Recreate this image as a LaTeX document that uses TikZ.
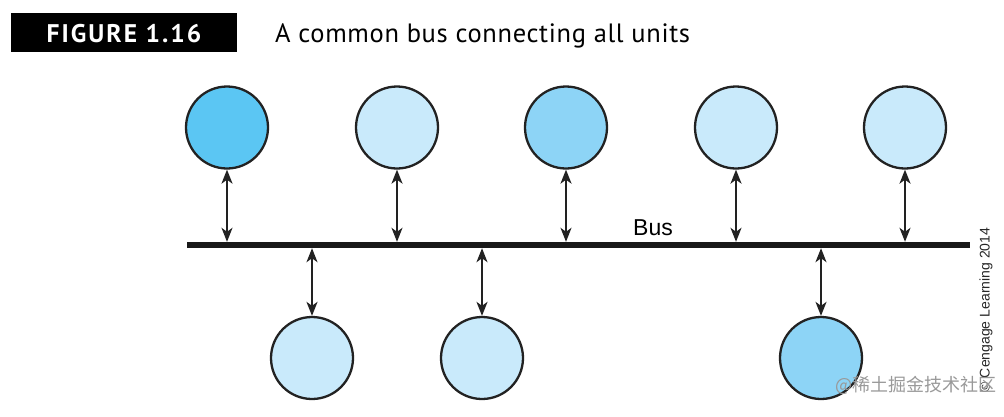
\documentclass[tikz,border=0pt]{standalone}
\usepackage{fontspec}
\setmainfont{PT Sans}
\newfontfamily\titlef[LetterSpace=8]{PT Sans}
\newfontfamily\capf[LetterSpace=2.5]{PT Sans}
\newfontfamily\arialf{Liberation Sans}
\newfontfamily\cjkf{Noto Sans CJK SC}
\usetikzlibrary{arrows.meta}
\definecolor{cdark}{HTML}{5BC6F3}
\definecolor{cmid}{HTML}{8DD4F6}
\definecolor{clight}{HTML}{C9EAFB}
\definecolor{edge}{HTML}{222222}
\begin{document}
\begin{tikzpicture}[x=1pt,y=-1pt,
  unit/.style={circle,draw=edge,line width=2.3pt,minimum size=82pt,inner sep=0pt},
  tipx/.style={Stealth[length=14pt,width=11pt,inset=4pt]},
  link/.style={line width=2pt,draw=edge,{Stealth[length=14pt,width=11pt,inset=4pt]}-{Stealth[length=14pt,width=11pt,inset=4pt]}},
  busbar/.style={fill=black!90,draw=none,minimum width=783pt,minimum height=6pt,inner sep=0pt}]
\useasboundingbox (0,0) rectangle (1004,416);
% title
\node[fill=black,minimum width=226pt,minimum height=39pt,inner sep=0pt,anchor=north west] (tbox) at (11,13) {};
\node[text=white,font=\titlef\bfseries\fontsize{25.5}{28}\selectfont,anchor=base] (tnum) at (124,42) {FIGURE 1.16};
\node[font=\capf\fontsize{26.5}{30}\selectfont,anchor=base west,inner sep=0pt] (cap) at (275,42) {A common bus connecting all units};
% bus
\node[busbar,anchor=west] (bus) at (187,245) {};
\node[font=\arialf\fontsize{23}{26}\selectfont,anchor=base] (buslbl) at (653,235) {Bus};
% units
\node[unit,fill=cdark]  (u1) at (227,127.5) {};
\node[unit,fill=clight] (u2) at (397,127.5) {};
\node[unit,fill=cmid]   (u3) at (566,127.5) {};
\node[unit,fill=clight] (u4) at (736,127.5) {};
\node[unit,fill=clight] (u5) at (905,127.5) {};
\node[unit,fill=clight] (d1) at (312,358) {};
\node[unit,fill=clight] (d2) at (482,358) {};
\node[unit,fill=cmid]   (d3) at (821,358) {};
% connectors
\foreach \u in {u1,u2,u3,u4,u5}
  \draw[link] (\u.south) -- (\u.south |- bus.north);
\foreach \d in {d1,d2,d3}
  \draw[link] (\d.north |- bus.south) -- (\d.north);
% copyright
\node[font=\arialf\fontsize{14}{16}\selectfont,rotate=90,text=black!85] (copy) at (986,310) {© Cengage Learning 2014};
% watermark
\node[font=\cjkf\fontsize{18}{20}\selectfont,text=black!40] (wm) at (916,385) {@稀土掘金技术社区};
\end{tikzpicture}
\end{document}
